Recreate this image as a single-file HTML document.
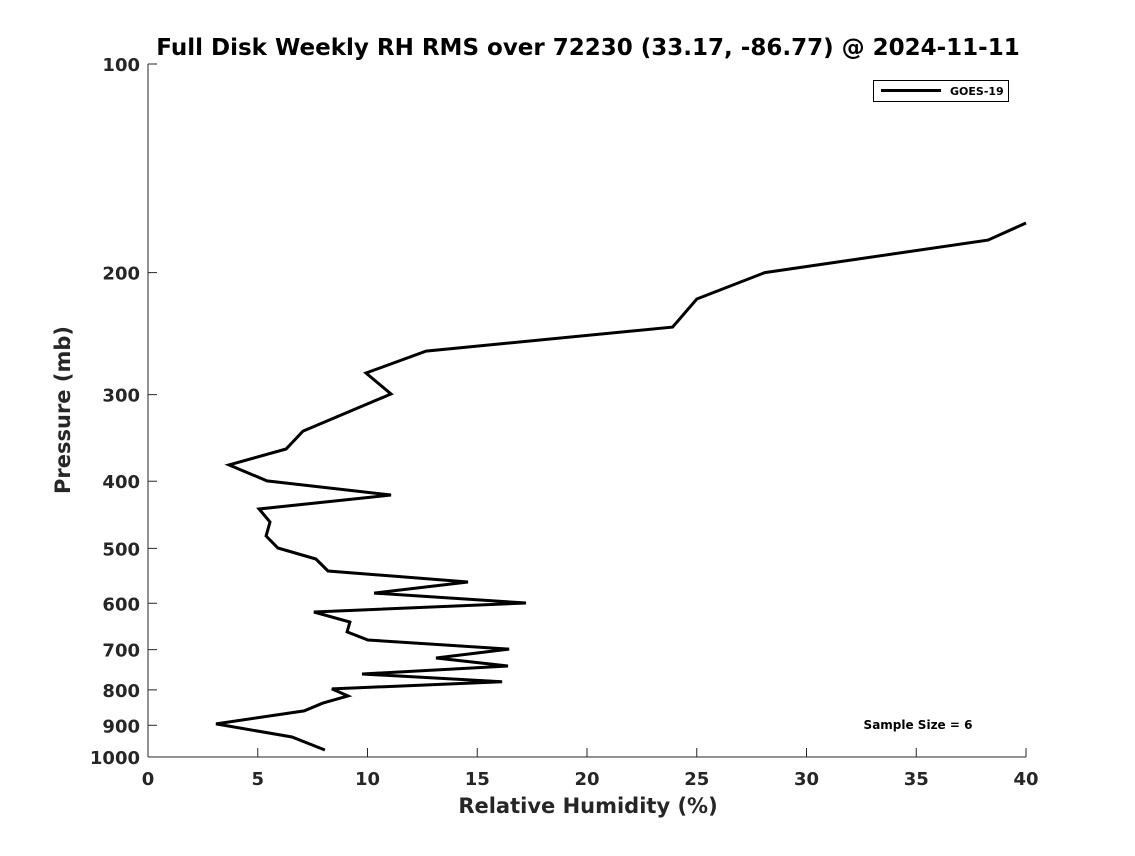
<!DOCTYPE html>
<html><head><meta charset="utf-8"><style>
body{margin:0;background:#fff}
svg text{font-family:"DejaVu Sans","Liberation Sans",sans-serif;font-weight:bold;fill:#262626}
</style></head><body>
<svg id="chart" width="1135" height="851" xmlns="http://www.w3.org/2000/svg">
<rect width="1135" height="851" fill="#fff"/>
<text x="588" y="55" text-anchor="middle" font-size="23" style="fill:#000">Full Disk Weekly RH RMS over 72230 (33.17, -86.77) @ 2024-11-11</text>
<g id="axes"></g>
<polyline id="series" fill="none" stroke="#000" stroke-width="3" stroke-linejoin="miter"/>
<g>
<rect x="873.5" y="80.5" width="135" height="21" fill="#fff" stroke="#000" stroke-width="1"/>
<line x1="881" y1="90.5" x2="941" y2="90.5" stroke="#000" stroke-width="3"/>
<text x="950" y="95" font-size="11" style="fill:#000">GOES-19</text>
</g>
<text x="918" y="729" text-anchor="middle" font-size="12" style="fill:#000">Sample Size = 6</text>
<text x="588" y="813" text-anchor="middle" font-size="21">Relative Humidity (%)</text>
<text transform="translate(70,410) rotate(-90)" text-anchor="middle" font-size="21">Pressure (mb)</text>
</svg>
<script>
const xTicks=[0,5,10,15,20,25,30,35,40];
const yTicks=[100,200,300,400,500,600,700,800,900,1000];
const rhValues=[40,38.27,28.1,25.0,23.9,12.67,9.93,11.07,7.06,6.29,3.69,5.42,11.07,5.06,5.56,5.38,5.92,7.65,8.2,14.58,10.3,17.22,7.56,9.2,9.07,10.02,16.45,13.12,16.4,9.75,16.13,8.38,9.11,7.97,7.11,3.1,6.56,8.06];
const pressures=[169.6,179.5,200,218.3,239.7,259.6,279.2,299.4,338.6,359.4,378.9,399.6,418.7,438.7,458,479.9,499.3,517.9,539,559,580,599.5,617.7,638.6,660,678,698.6,719.6,739,759,779,797.6,816.5,836,858,896,935.6,977];
const X0=148,X1=1026,Y0=64,Y1=757;
const xs=v=>X0+(v-0)/(40-0)*(X1-X0);
const ys=p=>Y0+(Math.log10(p)-2)/(3-2)*(Y1-Y0);
const NS="http://www.w3.org/2000/svg";
const g=document.getElementById('axes');
function mk(t,a){const e=document.createElementNS(NS,t);for(const k in a)e.setAttribute(k,a[k]);g.appendChild(e);return e;}
let l=mk('line',{x1:X0,y1:Y0,x2:X0,y2:Y1,stroke:'#262626','stroke-width':1});


l=mk('line',{x1:X0,y1:Y1,x2:X1,y2:Y1,stroke:'#262626','stroke-width':1});


xTicks.forEach(v=>{const x=xs(v);
 const t=mk('line',{x1:x,y1:Y1,x2:x,y2:Y1-9,stroke:'#262626'});
 
 
 const tx=mk('text',{x:x,y:Y1+28,'text-anchor':'middle','font-size':18});tx.textContent=v;
 
 
});
yTicks.forEach(v=>{const y=ys(v);
 const t=mk('line',{x1:X0,y1:y,x2:X0+9,y2:y,stroke:'#262626'});
 
 
 const tx=mk('text',{x:X0-8,y:y+7,'text-anchor':'end','font-size':18});tx.textContent=v;
 
 
});
document.getElementById('series').setAttribute('points',rhValues.map((v,i)=>xs(v).toFixed(1)+','+ys(pressures[i]).toFixed(1)).join(' '));
</script>
</body></html>
